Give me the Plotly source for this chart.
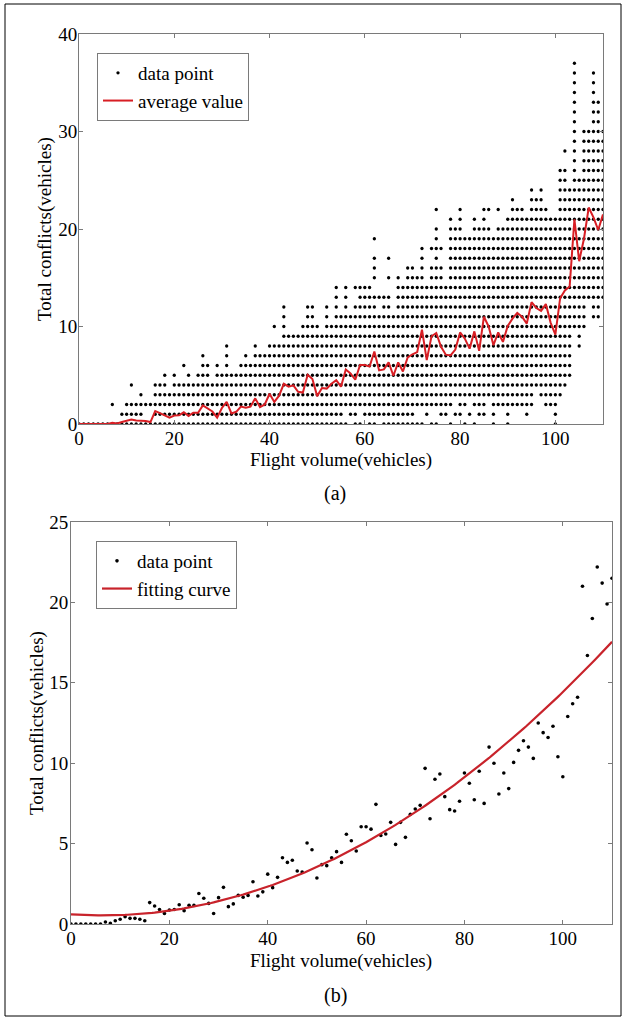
import plotly.graph_objects as go
import numpy as np

# ---------------- data ----------------
FLIGHT_VOLUME = list(range(0, 111))

# Conflict counts recorded per flight volume: each column holds every integer
# count from DOT_LOW to DOT_HIGH, plus isolated extra counts, minus holes.
DOT_LOW = [
    0, 0, 0, 0, 0, 0, 0, 0, 0, 0,
    0, 0, 0, 0, 0, 0, 0, 0, 0, 0,
    0, 0, 0, 0, 0, 0, 0, 0, 0, 0,
    0, 0, 0, 0, 0, 0, 0, 0, 0, 0,
    0, 0, 0, 0, 0, 0, 0, 0, 0, 0,
    0, 0, 0, 0, 0, 0, 0, 0, 0, 0,
    0, 0, 0, 0, 0, 0, 0, 0, 0, 0,
    0, 0, 0, 0, 0, 0, 0, 0, 0, 0,
    0, 0, 0, 0, 0, 1, 3, 0, 2, 2,
    0, 2, 2, 2, 1, 2, 4, 3, 2, 2,
    0, 3, 4, 5, 10, 8, 10, 13, 11, 11,
    13,
]
DOT_HIGH = [
    0, 0, 0, 0, 0, 0, 0, 0, 0, 1,
    2, 2, 2, 3, 2, 2, 4, 4, 5, 3,
    5, 4, 4, 5, 4, 5, 7, 6, 4, 6,
    5, 8, 5, 5, 6, 7, 6, 8, 7, 7,
    8, 8, 8, 12, 9, 9, 9, 10, 12, 12,
    10, 9, 12, 10, 14, 11, 14, 11, 12, 14,
    14, 14, 13, 11, 13, 13, 11, 15, 14, 16,
    16, 15, 18, 14, 16, 20, 16, 14, 21, 20,
    22, 19, 19, 21, 20, 22, 20, 19, 20, 20,
    21, 23, 22, 22, 21, 24, 23, 24, 22, 21,
    21, 26, 26, 24, 37, 25, 30, 30, 36, 33,
    30,
]
EXTRA_X = [7, 11, 22, 41, 58, 62, 62, 62, 62, 63, 65, 65, 74, 75, 76, 86, 88, 102]
EXTRA_Y = [2, 4, 6, 10, 14, 15, 16, 17, 19, 13, 15, 17, 18, 22, 18, 22, 22, 28]
HOLE_X = [14, 15, 57, 60, 63, 73, 76, 77, 79, 80, 82, 84,
          56, 59, 71, 72, 74, 75, 78, 81, 83, 79, 82]
HOLE_Y = [1, 1, 0, 0, 0, 0, 0, 0, 0, 0, 0, 0,
          1, 1, 1, 1, 1, 1, 1, 1, 1, 2, 2]

# Mean number of conflicts per flight volume
AVERAGE = [
    0.0, 0.0, 0.0, 0.0, 0.0, 0.0, 0.0, 0.12, 0.05, 0.2,
    0.3, 0.45, 0.35, 0.35, 0.3, 0.2, 1.33, 1.12, 0.9, 0.65,
    0.87, 0.9, 1.2, 0.83, 1.16, 1.16, 1.9, 1.6, 1.28, 0.65,
    1.64, 2.28, 1.08, 1.25, 1.78, 1.66, 1.78, 2.63, 1.74, 2.0,
    3.1, 2.26, 2.9, 4.12, 3.83, 3.96, 3.3, 3.23, 5.04, 4.62,
    2.86, 3.69, 3.63, 4.12, 4.5, 3.83, 5.58, 5.18, 4.54, 6.05,
    6.05, 5.9, 7.44, 5.5, 5.6, 6.32, 4.95, 6.32, 5.39, 6.82,
    7.15, 7.38, 9.68, 6.55, 9.0, 9.33, 7.92, 7.11, 7.03, 7.63,
    9.39, 8.75, 7.73, 9.5, 7.5, 11.0, 10.0, 8.08, 9.39, 8.42,
    10.05, 10.8, 11.4, 11.0, 10.3, 12.5, 11.9, 11.6, 12.3, 10.4,
    9.16, 12.9, 13.7, 14.1, 21.0, 16.7, 19.0, 22.2, 21.2, 19.9,
    21.5,
]

# Quadratic fitting curve coefficients (highest power first)
FIT_COEF = [0.001586, -0.0204, 0.60]

X_TICKS = [0, 20, 40, 60, 80, 100]
Y_TICKS_A = [0, 10, 20, 30, 40]
Y_TICKS_B = [0, 5, 10, 15, 20, 25]

# ---------------- build marks ----------------
holes = set(zip(HOLE_X, HOLE_Y))
pts_x, pts_y = [], []
for x, lo, hi in zip(FLIGHT_VOLUME, DOT_LOW, DOT_HIGH):
    for y in range(lo, hi + 1):
        if (x, y) not in holes:
            pts_x.append(x)
            pts_y.append(y)
pts_x += EXTRA_X
pts_y += EXTRA_Y

fit_x = np.linspace(0, 110, 221)
fit_y = np.polyval(FIT_COEF, fit_x)

W, H = 627, 1021
FONT = "Liberation Serif, Times New Roman, serif"
FS = 19
RED = "#d81e24"
FIT_RED = "#c8232b"
AXIS_GRAY = "#7a7a7a"


def px_x(p):
    return p / W


def px_y(p):
    return 1 - p / H


fig = go.Figure()

fig.add_trace(go.Scatter(
    x=pts_x, y=pts_y, mode="markers", name="data point",
    marker=dict(color="black", size=3.3),
    xaxis="x", yaxis="y", legend="legend",
))
fig.add_trace(go.Scatter(
    x=FLIGHT_VOLUME, y=AVERAGE, mode="lines", name="average value",
    line=dict(color=RED, width=2),
    xaxis="x", yaxis="y", legend="legend",
))
fig.add_trace(go.Scatter(
    x=FLIGHT_VOLUME, y=AVERAGE, mode="markers", name="data point",
    marker=dict(color="black", size=3.6),
    xaxis="x2", yaxis="y2", legend="legend2",
))
fig.add_trace(go.Scatter(
    x=fit_x, y=fit_y, mode="lines", name="fitting curve",
    line=dict(color=FIT_RED, width=2.2),
    xaxis="x2", yaxis="y2", legend="legend2",
))

axis_common = dict(
    showline=True, linecolor=AXIS_GRAY, linewidth=1, mirror="allticks",
    ticks="inside", ticklen=4, tickcolor=AXIS_GRAY, tickwidth=1,
    showgrid=False, zeroline=False,
    tickfont=dict(family=FONT, size=FS, color="black"),
)

fig.update_layout(
    width=W, height=H,
    margin=dict(l=0, r=0, t=0, b=0, autoexpand=False),
    paper_bgcolor="white", plot_bgcolor="white",
    font=dict(family=FONT, size=FS, color="black"),
    xaxis=dict(domain=[px_x(79), px_x(603)], range=[0, 110], tickvals=X_TICKS,
               anchor="y", ticklabelstandoff=-3, **axis_common),
    yaxis=dict(domain=[px_y(424), px_y(34)], range=[0, 40], tickvals=Y_TICKS_A,
               anchor="x", ticklabelstandoff=-3, **axis_common),
    xaxis2=dict(domain=[px_x(71), px_x(612)], range=[0, 110], tickvals=X_TICKS,
                anchor="y2", ticklabelstandoff=-3, **axis_common),
    yaxis2=dict(domain=[px_y(924), px_y(522)], range=[0, 25], tickvals=Y_TICKS_B,
                anchor="x2", ticklabelstandoff=-2, **axis_common),
    legend=dict(x=px_x(97), y=px_y(53), xanchor="left", yanchor="top",
                bgcolor="white", bordercolor=AXIS_GRAY, borderwidth=1,
                font=dict(family=FONT, size=FS, color="black"), itemwidth=30),
    legend2=dict(x=px_x(96), y=px_y(541), xanchor="left", yanchor="top",
                 bgcolor="white", bordercolor=AXIS_GRAY, borderwidth=1,
                 font=dict(family=FONT, size=FS, color="black"), itemwidth=30),
    showlegend=True,
)

label_font = dict(family=FONT, size=FS, color="black")
annotations = [
    dict(text="Flight volume(vehicles)", x=px_x(341), y=px_y(460)),
    dict(text="Total conflicts(vehicles)", x=px_x(45), y=px_y(229), textangle=-90),
    dict(text="(a)", x=px_x(335), y=px_y(494), font=dict(family=FONT, size=20, color="black")),
    dict(text="Flight volume(vehicles)", x=px_x(341), y=px_y(961)),
    dict(text="Total conflicts(vehicles)", x=px_x(37), y=px_y(723), textangle=-90),
    dict(text="(b)", x=px_x(335), y=px_y(995), font=dict(family=FONT, size=20, color="black")),
]
for a in annotations:
    a.setdefault("font", label_font)
    fig.add_annotation(xref="paper", yref="paper", xanchor="center", yanchor="middle",
                       showarrow=False, **a)

# thin frame around the whole figure
fig.add_shape(type="rect", xref="paper", yref="paper",
              x0=px_x(5), x1=px_x(621), y0=px_y(1016), y1=px_y(4),
              line=dict(color="black", width=1), fillcolor="rgba(0,0,0,0)", layer="above")

fig.write_html("out.html")
